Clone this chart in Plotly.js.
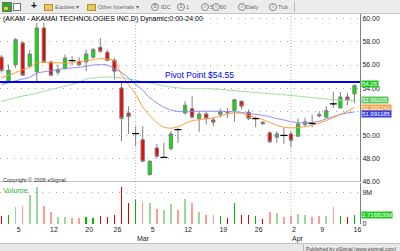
<!DOCTYPE html>
<html><head><meta charset="utf-8">
<script src="https://cdn.plot.ly/plotly-3.0.1.min.js"></script>
<style>
html,body{margin:0;padding:0;width:400px;height:251px;overflow:hidden;background:#fff;font-family:"Liberation Sans",Arial,sans-serif;}
#chart{position:absolute;left:0;top:0;width:400px;height:251px;}
#toolbar{position:absolute;left:0;top:0;width:400px;height:13px;background:#ececec;border-bottom:1px solid #c4c4c4;font-size:5.5px;color:#666;}
#toolbar span{position:absolute;top:3.5px;white-space:nowrap;line-height:6px;}
#toolbar .ic{position:absolute;}
#toolbar .c{position:absolute;top:3px;width:6px;height:6px;border:1px solid #888;border-radius:50%;font-size:4.5px;line-height:6px;text-align:center;color:#555;box-sizing:content-box;}
#footer{position:absolute;left:0;top:243px;width:400px;height:8px;background:#e8e8e8;border-top:1px solid #c4c4c4;font-size:5px;color:#444;}
#footer span{position:absolute;left:306px;top:1.5px;white-space:nowrap;line-height:6px;}
</style></head>
<body>
<div id="chart"></div>
<div id="toolbar">
  <div class="ic" style="left:2px;top:2px;width:8px;height:8px;background:#36a336;border:1px solid #5a7a5a;"></div>
  <div class="ic" style="left:4px;top:7px;width:4px;height:3px;background:#f0d020;"></div>
  <div class="ic" style="left:13px;top:3px;width:6px;height:6px;background:#fff;border:1px solid #777;"></div>
  <span style="left:31px;top:1px;font-size:10px;font-weight:bold;color:#111;line-height:10px;">+</span>
  <div class="ic" style="left:44px;top:4px;width:7px;height:5px;background:#e9c85a;border:1px solid #b09030;"></div>
  <span style="left:55px;">Equities &#9662;</span>
  <div class="ic" style="left:87px;top:4px;width:7px;height:5px;background:#e9c85a;border:1px solid #b09030;"></div>
  <span style="left:98px;">Other Intervals &#9662;</span>
  <div class="c" style="left:151px;">S</div><span style="left:161px;">IDC</span>
  <div class="c" style="left:177px;">1</div><span style="left:186px;">1</span>
  <div class="c" style="left:201px;">i</div><span style="left:210px;">5</span>
  <div class="c" style="left:212px;">i</div><span style="left:220px;">60</span>
  <div class="c" style="left:238px;">i</div><span style="left:246px;">Daily</span>
  <div class="c" style="left:269px;">i</div><span style="left:278px;">Tick</span>
  <div class="ic" style="left:294px;top:1px;width:1px;height:11px;background:#bbb;"></div>
</div>
<div id="footer">
  <div style="position:absolute;left:303px;top:0;width:1px;height:8px;background:#bbb;"></div>
  <span>Published by eSignal (www.esignal.com)</span>
</div>
<script>
// ---------- data ----------
const dates = [
 '2007-02-01','2007-02-02','2007-02-05','2007-02-06','2007-02-07','2007-02-08','2007-02-09',
 '2007-02-12','2007-02-13','2007-02-14','2007-02-15','2007-02-16',
 '2007-02-20','2007-02-21','2007-02-22','2007-02-23',
 '2007-02-26','2007-02-27','2007-02-28','2007-03-01','2007-03-02',
 '2007-03-05','2007-03-06','2007-03-07','2007-03-08','2007-03-09',
 '2007-03-12','2007-03-13','2007-03-14','2007-03-15','2007-03-16',
 '2007-03-19','2007-03-20','2007-03-21','2007-03-22','2007-03-23',
 '2007-03-26','2007-03-27','2007-03-28','2007-03-29','2007-03-30',
 '2007-04-02','2007-04-03','2007-04-04','2007-04-05',
 '2007-04-09','2007-04-10','2007-04-11','2007-04-12','2007-04-13',
 '2007-04-16'];
const open  = [56.67,54.56,56.03,57.89,55.90,55.41,59.17,56.26,55.38,55.69,56.38,56.32,56.26,56.67,57.52,57.09,56.41,54.04,51.90,50.14,49.62,46.63,48.91,48.10,48.85,50.48,51.90,52.27,51.42,51.82,51.31,51.76,51.99,52.10,52.90,51.96,51.42,51.11,50.20,49.83,49.98,50.11,49.91,50.91,51.00,51.76,51.54,52.68,52.33,53.27,53.53];
const high  = [56.85,56.03,58.30,58.03,57.30,59.60,59.60,56.38,56.03,56.89,56.75,56.67,57.32,57.45,58.32,57.32,56.60,54.47,52.48,50.77,50.77,47.85,49.26,49.34,50.34,50.62,52.90,53.33,52.05,52.05,51.54,52.27,52.33,53.10,53.00,52.19,51.60,51.20,50.35,50.34,50.62,50.34,51.42,51.50,51.76,52.05,52.48,53.70,53.70,53.62,54.32];
const low   = [55.35,54.50,55.75,55.10,55.80,54.58,56.20,55.04,55.13,55.61,55.98,55.90,55.47,56.55,57.03,56.32,54.75,49.49,50.11,49.06,47.70,46.55,48.00,48.05,48.70,49.34,51.75,51.45,50.28,50.91,50.77,51.50,51.45,51.14,52.20,51.30,50.68,50.90,49.35,49.34,49.26,48.97,49.85,50.68,50.68,51.50,51.50,52.33,52.30,52.56,52.76];
const close = [55.52,55.56,58.17,55.13,56.95,59.17,56.26,55.13,55.60,56.60,56.38,56.03,56.95,57.32,57.18,56.38,55.47,51.42,51.59,50.14,47.78,47.78,48.20,48.10,50.11,50.48,52.56,51.54,51.82,51.42,51.11,51.99,51.93,53.04,52.48,51.42,51.42,50.97,49.43,50.11,49.98,49.54,50.97,51.14,51.00,51.65,52.10,52.68,53.27,53.02,54.26];
const maFast = [54.90,55.10,55.35,55.60,55.80,56.20,56.22,56.20,56.20,56.15,56.20,56.28,56.35,56.45,56.55,56.50,56.38,55.20,54.30,53.50,52.40,51.70,51.10,50.68,50.60,50.72,51.00,51.25,51.32,51.40,51.48,51.65,51.82,51.90,51.87,51.70,51.50,51.33,51.10,50.85,50.68,50.62,50.66,50.74,50.85,51.05,51.25,51.50,51.78,52.05,52.391241];
const maMid  = [54.32,54.50,54.65,54.80,54.95,55.30,55.42,55.50,55.62,55.70,55.75,55.80,55.90,56.00,56.03,56.00,55.70,55.35,54.90,54.35,53.85,53.20,52.75,52.40,52.15,52.03,52.00,52.02,52.05,52.05,52.05,52.05,52.02,52.00,51.96,51.85,51.78,51.70,51.58,51.42,51.30,51.15,51.08,51.05,51.10,51.20,51.40,51.58,51.78,51.90,51.991185];
const maSlow = [52.90,53.05,53.20,53.35,53.45,53.60,53.75,53.90,54.05,54.20,54.35,54.52,54.80,54.88,54.95,54.97,54.96,54.90,54.80,54.70,54.58,54.47,54.35,54.22,54.12,54.05,53.98,53.98,53.98,53.98,53.96,53.92,53.86,53.80,53.75,53.70,53.65,53.60,53.55,53.50,53.45,53.40,53.34,53.28,53.22,53.15,53.09,53.04,53.00,52.98,52.96105];
const volumeM = [2.3,2.6,4.9,5.3,8.4,10.8,5.3,3.4,2.1,2.1,1.6,1.6,2.1,1.6,2.4,1.9,2.6,10.7,6.2,7.0,6.5,6.2,4.3,4.1,5.8,4.1,7.3,6.2,3.4,2.6,2.6,2.3,1.7,6.0,2.6,2.6,2.3,1.4,3.5,3.1,2.1,2.3,2.9,2.6,1.9,2.3,2.3,5.0,2.3,1.9,2.716826];
const volumeTone = ['R','G','g','r','g','g','r','r','g','g','r','r','G','G','R','R','R','R','R','G','r','g','r','g','g','r','g','r','g','r','r','G','R','G','R','R','G','R','r','g','r','r','g','g','r','r','g','r','G','R','G'];
const tickDates = ['2007-02-05','2007-02-12','2007-02-20','2007-02-26','2007-03-05','2007-03-12','2007-03-19','2007-03-26','2007-04-02','2007-04-09','2007-04-16'];
const priceTicks = [46,48,50,52,54,56,58,60];
const priceTicksHidden = [52];   // covered by the study value boxes in the original
const volumeTicks = [0,9];
const volumeTickText = ['0','9M'];
const pivotPoint = 54.55;
const chartTitle = '(AKAM - AKAMAI TECHNOLOGIES INC,D) Dynamic;0:00-24:00';
const monthNames = ['Jan','Feb','Mar','Apr','May','Jun','Jul','Aug','Sep','Oct','Nov','Dec'];

// ---------- build ----------
const FONT = '"Liberation Sans", Arial, sans-serif';
const idx = dates.map((d,i)=>i);
const pick = (arr, sel) => sel.map(i=>arr[i]);
const upI = idx.filter(i=>close[i]>open[i]);
const dnI = idx.filter(i=>close[i]<open[i]);
const djI = idx.filter(i=>close[i]===open[i]);
const toneColor = {R:'#e00000', r:'#ff9a9a', G:'#00b800', g:'#9ad99a'};
const WICK = '#808080';

function candles(sel, fillUp, fillDn){
  return {type:'candlestick', xaxis:'x', yaxis:'y', x:pick(idx,sel),
    open:pick(open,sel), high:pick(high,sel), low:pick(low,sel), close:pick(close,sel),
    increasing:{line:{color:WICK,width:1}, fillcolor:fillUp},
    decreasing:{line:{color:WICK,width:1}, fillcolor:fillDn},
    whiskerwidth:0, hoverinfo:'skip', showlegend:false};
}
function maLine(vals, color){
  return {type:'scatter', mode:'lines', x:idx, y:vals, xaxis:'x', yaxis:'y',
    line:{color:color, width:1, shape:'spline', smoothing:0.6}, hoverinfo:'skip'};
}
const traces = [
  maLine(maSlow,'#9cdc9c'),
  maLine(maMid,'#8a8af0'),
  maLine(maFast,'#ff9a33'),
  candles(upI,'#00e600','#00e600'),
  candles(dnI,'#ee0000','#ee0000'),
  candles(djI,'#000000','#000000'),
  {type:'scatter', mode:'markers', x:pick(idx,djI), y:pick(close,djI), xaxis:'x', yaxis:'y',
    marker:{symbol:'line-ew', size:5, line:{width:1.2,color:'#000'}}, hoverinfo:'skip'},
  {type:'bar', x:idx, y:volumeM, xaxis:'x', yaxis:'y2', width:0.22,
    marker:{color:volumeTone.map(t=>toneColor[t]), line:{width:0}}, hoverinfo:'skip'}
];

const tickIdx = tickDates.map(d=>dates.indexOf(d));
const tickTxt = tickDates.map(d=>String(+d.slice(8)));
const monthStarts = idx.filter(i=>i>0 && dates[i].slice(5,7)!==dates[i-1].slice(5,7));
const last = dates.length-1;

// pixel helpers for paper y (plot area: top 14, bottom 224)
const PT=14, PB=224, PH=PB-PT;
const py = p => (PB-p)/PH;

const shapes = [
  {type:'line', xref:'paper', x0:0, x1:1, yref:'y', y0:pivotPoint, y1:pivotPoint, line:{color:'#0000ee', width:2}},
  {type:'line', xref:'paper', x0:0, x1:1, yref:'y', y0:priceTicks[0], y1:priceTicks[0], line:{color:'#8c8c8c', width:1}}
].concat(monthStarts.map(i=>({type:'line', xref:'x', x0:i, x1:i, yref:'paper', y0:0, y1:1,
  line:{color:'#b0b0b0', width:1, dash:'1px,2px'}, layer:'below'})));

function rlabel(y, yref, text, bg, shift){
  return {xref:'paper', x:1, xanchor:'left', xshift:1, yref:yref, y:y, yanchor:'middle', yshift:shift||0,
    text:text, showarrow:false, bgcolor:bg, borderpad:0, height:5.5,
    font:{size:6, color:'#ffffff', family:FONT}};
}
const annotations = [
  {xref:'paper', x:0, xanchor:'left', xshift:1, yref:'paper', y:py(18.5), yanchor:'middle',
   text:chartTitle, showarrow:false, font:{size:7, color:'#000', family:FONT}},
  {xref:'paper', x:0, xanchor:'left', xshift:1, yref:'paper', y:py(179.5), yanchor:'middle',
   text:'Copyright © 2006 eSignal.', showarrow:false, font:{size:5.5, color:'#333', family:FONT}},
  {xref:'paper', x:0, xanchor:'left', xshift:1, yref:'paper', y:py(190), yanchor:'middle',
   text:'Volume', showarrow:false, font:{size:7.5, color:'#33b833', family:FONT}},
  {xref:'paper', x:163/360, xanchor:'left', yref:'y', y:pivotPoint, yanchor:'bottom', yshift:0,
   text:'Pivot Point $'+pivotPoint.toFixed(2), showarrow:false, font:{size:8.5, color:'#0000ee', family:FONT}},
  rlabel(close[last],'y',close[last].toFixed(2),'#1ec81e', 1),
  rlabel(maSlow[last],'y',String(maSlow[last]),'#5cc85c', 0.5),
  rlabel(maFast[last],'y',String(maFast[last]),'#f5a04a', -0.5),
  rlabel(maMid[last],'y',String(maMid[last]),'#3040e8', -2.5),
  rlabel(volumeM[last],'y2',String(volumeM[last])+'M','#1ec81e', 0)
].concat(monthStarts.map(i=>({xref:'x', x:i, xanchor:'left', xshift:-1, yref:'paper', y:py(238.5), yanchor:'middle',
   text:monthNames[+dates[i].slice(5,7)-1], showarrow:false, font:{size:7, color:'#222', family:FONT}})));

const layout = {
  width:400, height:251,
  margin:{l:0, r:40, t:PT, b:251-PB, pad:0},
  paper_bgcolor:'#ffffff', plot_bgcolor:'#ffffff',
  showlegend:false, hovermode:false, dragmode:false,
  boxgap:0.33, boxmode:'overlay', bargap:0,
  font:{family:FONT, size:7, color:'#222'},
  xaxis:{range:[-0.21,50.78], anchor:'y2', tickmode:'array', tickvals:tickIdx, ticktext:tickTxt,
    ticks:'', showgrid:false, zeroline:false, showline:false, ticklabelshift:3,
    tickfont:{size:7, color:'#222', family:FONT}, rangeslider:{visible:false}, fixedrange:true},
  yaxis:{domain:[(PB-182)/PH,1], range:[46,60.36], side:'right', anchor:'x', tickmode:'array',
    tickvals:priceTicks, ticktext:priceTicks.map(v=>priceTicksHidden.includes(v)?'':v.toFixed(2)), ticks:'', showgrid:true,
    gridcolor:'#a8a8a8', griddash:'1px,6px', gridwidth:1, zeroline:false, showline:true, linecolor:'#808080',
    tickfont:{size:7, color:'#222', family:FONT}, fixedrange:true},
  yaxis2:{domain:[0,(PB-183)/PH], range:[0,11.9], side:'right', anchor:'x', tickmode:'array',
    tickvals:volumeTicks, ticktext:volumeTickText, ticks:'', showgrid:true,
    gridcolor:'#a8a8a8', griddash:'1px,6px', zeroline:false, showline:true, linecolor:'#808080',
    tickfont:{size:7, color:'#222', family:FONT}, fixedrange:true},
  shapes:shapes, annotations:annotations
};
Plotly.newPlot('chart', traces, layout, {staticPlot:true, displayModeBar:false});
</script>
</body></html>
